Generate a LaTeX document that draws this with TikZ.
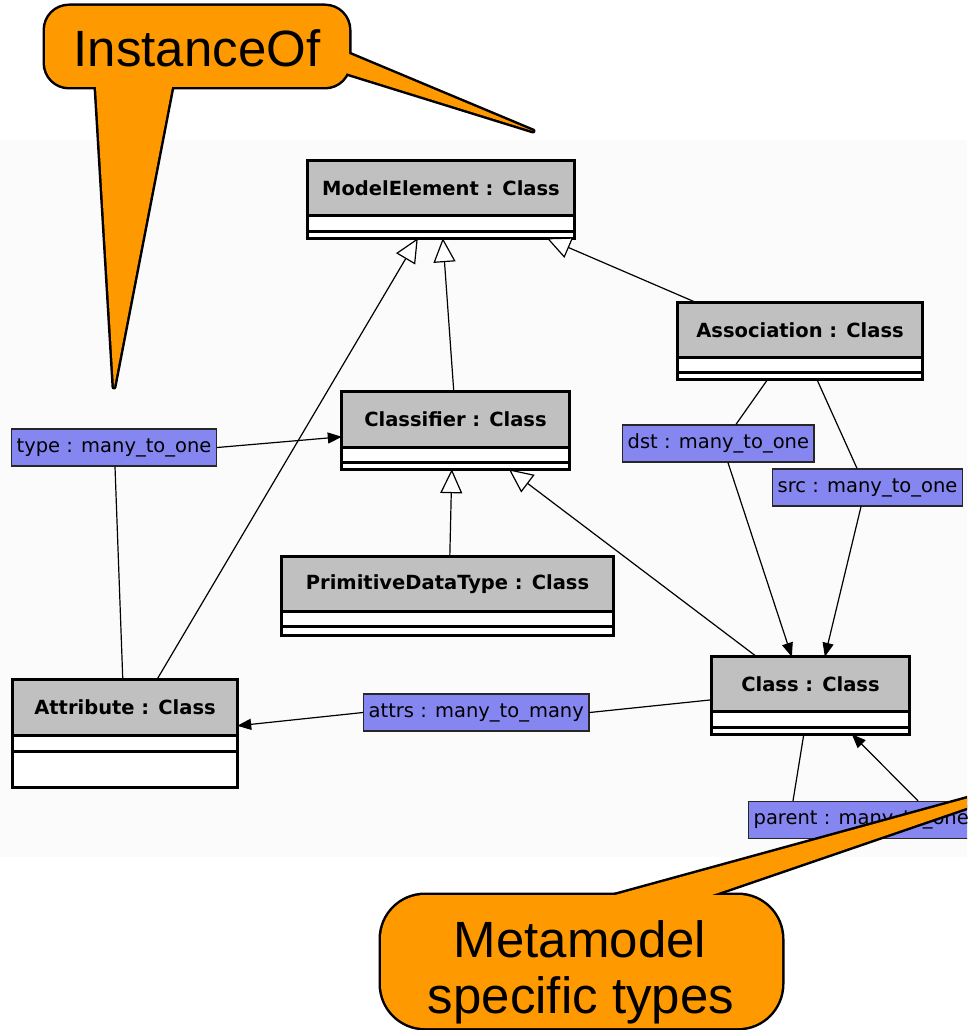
\documentclass[tikz,border=0pt]{standalone}
\usepackage{fontspec}
\setmainfont{DejaVu Sans}
\newfontfamily\callfont{Liberation Sans}
\usetikzlibrary{arrows.meta,fit}
\definecolor{bgpale}{RGB}{251,251,251}
\definecolor{headgray}{RGB}{192,192,192}
\definecolor{lblblue}{RGB}{134,134,240}
\definecolor{callorange}{RGB}{255,153,0}
\tikzset{
 framew/.style={line width=3pt},
 titlefont/.style={font=\fontsize{19.5}{23}\selectfont\bfseries, inner sep=0pt},
 lbl/.style={draw=black!85, line width=1.3pt, fill=lblblue, font=\fontsize{19.5}{23}\selectfont, anchor=west, inner xsep=5pt, inner ysep=0pt, minimum height=37pt},
 conn/.style={line width=1.2pt},
 gen/.style={conn, -{Triangle[open, length=24pt, width=22pt, fill=white]}},
 assoc/.style={conn, -{Triangle[length=14pt, width=11pt]}},
 calloutline/.style={draw=black, line width=5pt, line join=round},
 calltext/.style={font=\callfont\fontsize{51}{56}\selectfont, inner sep=0pt, anchor=base},
}
\newcommand{\umlclass}[8]{%
 \node[fit={(#2,#3)(#4,#5)}, inner sep=0pt, fill=white] (#1) {};
 \fill[headgray] (#2,#3) rectangle (#4,#6);
 \draw[framew] (#2,#6) -- (#4,#6) (#2,#7) -- (#4,#7);
 \draw[framew] (#1.north west) rectangle (#1.south east);
 \node[titlefont] (#1-t) at ({(#2+#4)/2},{(#3+#6)/2}) {#8};
}
\begin{document}
\begin{tikzpicture}[x=1pt,y=-1pt]
\useasboundingbox (0,0) rectangle (967,1030);
\clip (0,0) rectangle (967,1030);
\fill[bgpale] (0,140) rectangle (967,857);

% classes
\umlclass{me}{308}{161}{574}{238}{215}{231}{ModelElement : Class}
\umlclass{as}{678}{303}{922}{379}{357}{372}{Association : Class}
\umlclass{cf}{342}{392}{569}{469}{447}{462}{Classifier : Class}
\umlclass{pd}{282}{557}{613}{635}{611}{626}{PrimitiveDataType : Class}
\umlclass{cl}{712}{657}{909}{734}{711}{727}{Class : Class}
\umlclass{at}{13}{680}{237}{787}{735}{751}{Attribute : Class}

% association labels
\node[lbl] (tl) at (11,447.5) {type : many\_to\_one};
\node[lbl] (dl) at (622,443.5) {dst : many\_to\_one};
\node[lbl] (sl) at (772,487.5) {src : many\_to\_one};
\node[lbl] (al) at (363,712.5) {attrs : many\_to\_many};
\node[lbl] (pl) at (748,820) {parent : many\_to\_one};

% generalizations
\draw[gen] ([xshift=144pt]at.north west) -- ([xshift=110pt]me.south west);
\draw[gen] ([xshift=112pt]cf.north west) -- ([xshift=135pt]me.south west);
\draw[gen] ([xshift=19pt]as.north west) -- ([xshift=239pt]me.south west);
\draw[gen] ([xshift=168pt]pd.north west) -- ([xshift=110pt]cf.south west);
\draw[gen] ([xshift=45pt]cl.north west) -- ([xshift=167pt]cf.south west);

% associations
\draw[conn] ([xshift=110pt]at.north west) -- ([xshift=104pt]tl.south west);
\draw[assoc] (tl.east) -- ([yshift=-45pt]cf.north west);
\draw[conn] ([xshift=90pt]as.south west) -- ([xshift=114pt]dl.north west);
\draw[assoc] ([xshift=106pt]dl.south west) -- ([xshift=80pt]cl.north west);
\draw[conn] ([xshift=139pt]as.south west) -- ([xshift=85pt]sl.north west);
\draw[assoc] ([xshift=89pt]sl.south west) -- ([xshift=113pt]cl.north west);
\draw[conn] ([yshift=-43pt]cl.north west) -- (al.east);
\draw[assoc] (al.west) -- ([yshift=-46pt]at.north east);
\draw[conn] ([xshift=92pt]cl.south west) -- ([xshift=45pt]pl.north west);
\draw[assoc] ([xshift=170pt]pl.north west) -- ([xshift=140pt]cl.south west);

% callout: InstanceOf
\draw[calloutline, rounded corners=24pt] (45,6) rectangle (349,87);
\draw[calloutline] (95.1,72) -- (114,387) -- (174.9,72) -- cycle;
\draw[calloutline] (334.3,47.8) -- (533,131) -- (334.3,69.4) -- cycle;
\fill[callorange, rounded corners=24pt] (45,6) rectangle (349,87);
\fill[callorange] (95.1,72) -- (114,387) -- (174.9,72) -- cycle;
\fill[callorange] (334.3,47.8) -- (533,131) -- (334.3,69.4) -- cycle;
\node[calltext] (c1) at (197,67) {InstanceOf};

% callout: Metamodel specific types
\draw[calloutline, rounded corners=44pt] (381,895) rectangle (782,1028);
\draw[calloutline] (568,908) -- (1100,762) -- (674,908) -- cycle;
\fill[callorange, rounded corners=44pt] (381,895) rectangle (782,1028);
\fill[callorange] (568,908) -- (1100,762) -- (674,908) -- cycle;
\node[calltext] (c2) at (580,957) {Metamodel};
\node[calltext] (c3) at (581,1013) {specific types};
\end{tikzpicture}
\end{document}
